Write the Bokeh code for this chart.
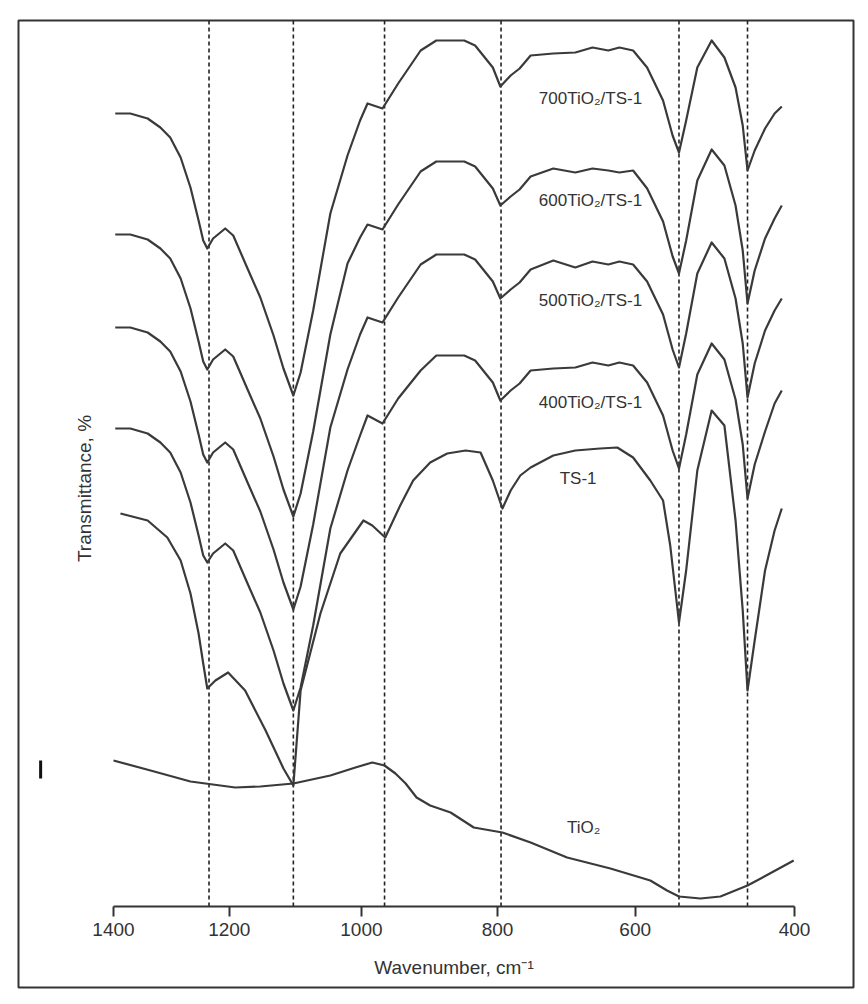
import numpy as np
from bokeh.plotting import figure
from bokeh.models import Range1d, FixedTicker, LinearAxis, ColumnDataSource
from bokeh.embed import file_html
from bokeh.resources import INLINE
from bokeh.core.properties import value

# ---------------- data ----------------
TICK_WN = [1400, 1200, 1000, 800, 600, 400]
TICK_LABELS = ["1400", "1200", "1000", "800", "600", "400"]
# the printed axis of the reference is not evenly spaced: where each tick sits
TICK_POS = [1400, 1230, 1036, 836, 634, 400]

BANDS = [1235, 1103, 966, 795, 545, 459]   # dashed reference lines, cm-1

WN_GROUP = [1397, 1371, 1341, 1319, 1302, 1284, 1267, 1253, 1245, 1238,
            1228, 1207, 1194, 1173, 1153, 1133, 1118, 1103, 1092, 1073,
            1047, 1021, 1002, 991, 969, 946, 913, 890, 849, 833,
            807, 796, 781, 768, 752, 719, 687, 662, 639, 623,
            603, 585, 565, 553, 545, 536, 522, 504, 488, 474,
            465, 459, 450, 437, 425, 416]

T_700 = [79.3, 79.3, 78.8, 77.9, 76.9, 74.9, 71.9, 68.6, 66.6, 65.8,
         66.8, 67.8, 67.1, 63.9, 60.9, 57.1, 53.8, 51.1, 53.4, 59.6,
         69.3, 75.1, 78.6, 80.3, 79.8, 82.3, 85.6, 86.6, 86.6, 86.1,
         83.9, 82.0, 83.1, 83.8, 85.1, 85.3, 85.4, 85.9, 85.6, 85.9,
         85.6, 83.9, 80.6, 77.1, 75.4, 78.6, 83.9, 86.6, 84.9, 81.9,
         78.1, 73.6, 75.6, 77.8, 79.3, 80.0]
T_600 = [67.2, 67.2, 66.7, 65.8, 64.8, 62.8, 59.8, 56.5, 54.5, 53.7,
         54.7, 55.7, 55.0, 51.8, 48.8, 45.0, 41.7, 39.0, 41.3, 47.5,
         57.2, 64.3, 66.9, 68.2, 67.7, 70.2, 73.5, 74.5, 74.5, 74.0,
         71.8, 70.1, 71.0, 71.7, 73.0, 73.8, 73.4, 73.8, 73.6, 73.4,
         73.6, 71.8, 68.5, 65.0, 63.3, 66.6, 72.6, 75.7, 74.1, 70.1,
         65.6, 60.3, 63.6, 66.8, 68.8, 70.1]
T_500 = [57.9, 57.9, 57.4, 56.5, 55.5, 53.5, 50.5, 47.2, 45.2, 44.4,
         45.4, 46.4, 45.7, 42.5, 39.5, 35.7, 32.4, 29.7, 32.0, 38.2,
         47.9, 53.7, 57.2, 58.9, 58.4, 60.9, 64.2, 65.2, 65.2, 64.7,
         62.5, 60.8, 61.7, 62.4, 63.7, 64.6, 63.9, 64.5, 64.2, 64.5,
         64.2, 62.5, 59.2, 55.7, 53.9, 57.3, 63.3, 66.4, 64.8, 60.8,
         56.3, 50.9, 54.3, 57.6, 59.6, 60.8]
T_400 = [47.8, 47.8, 47.3, 46.4, 45.4, 43.4, 40.4, 37.1, 35.1, 34.4,
         35.3, 36.3, 35.6, 32.4, 29.4, 25.6, 22.3, 19.6, 21.9, 28.1,
         37.8, 43.6, 47.1, 49.1, 48.3, 50.8, 53.6, 55.1, 55.1, 54.6,
         52.4, 50.6, 51.6, 52.3, 53.6, 53.8, 53.9, 54.4, 54.1, 54.4,
         54.1, 52.4, 49.1, 45.6, 43.8, 47.2, 53.2, 56.3, 54.7, 50.7,
         46.2, 40.8, 44.2, 47.5, 50.3, 51.6]

WN_TS1 = [1388, 1341, 1307, 1284, 1267, 1253, 1245, 1238, 1224, 1202,
          1176, 1145, 1118, 1103, 1092, 1062, 1032, 997, 984, 965,
          943, 924, 899, 874, 847, 825, 807, 793, 781, 767,
          752, 719, 687, 651, 626, 603, 581, 565, 556, 545,
          536, 522, 504, 488, 474, 465, 459, 450, 437, 425,
          416]
T_TS1 = [39.3, 38.6, 36.9, 34.6, 31.3, 27.3, 24.3, 21.8, 22.6, 23.4,
         21.6, 17.6, 13.8, 12.1, 21.6, 29.3, 35.3, 38.6, 38.1, 36.9,
         40.1, 42.6, 44.4, 45.3, 45.6, 45.4, 42.6, 39.8, 41.6, 43.1,
         43.9, 45.1, 45.6, 45.8, 45.9, 44.9, 42.6, 40.6, 36.1, 28.4,
         33.6, 43.6, 49.6, 48.1, 38.6, 29.6, 21.6, 26.6, 33.6, 37.6,
         39.8]

WN_TIO2 = [1400, 1336, 1267, 1191, 1153, 1103, 1047, 1009, 984, 966,
           950, 935, 919, 899, 869, 835, 793, 752, 699, 636,
           581, 560, 545, 518, 493, 459, 431, 401]
T_TIO2 = [14.6, 13.6, 12.5, 11.9, 12.0, 12.3, 13.1, 13.9, 14.4, 14.1,
          13.3, 12.3, 10.9, 10.1, 9.4, 7.9, 7.4, 6.4, 4.9, 3.8,
          2.6, 1.6, 1.0, 0.8, 1.0, 2.1, 3.3, 4.6]

NAMES = ["700TiO\u2082/TS-1", "600TiO\u2082/TS-1", "500TiO\u2082/TS-1", "400TiO\u2082/TS-1",
         "TS-1", "TiO\u2082"]
LABEL_WN = [665, 665, 665, 665, 683, 675]
LABEL_T = [80.8, 70.6, 60.6, 50.4, 42.8, 7.9]

SCALE_BAR_X = 1507          # axis units, left of the spectra
SCALE_BAR_T = [12.8, 14.6]

# ---------------- helpers ----------------
def warp(wn):
    return np.interp(-np.asarray(wn, float), -np.array(TICK_WN, float),
                     np.array(TICK_POS, float))

FONT = "Liberation Sans"
INK = "#333333"

p = figure(width=868, height=1004, output_backend="svg", toolbar_location=None,
           x_range=Range1d(1539.5, 313.4), y_range=Range1d(-8.1, 88.6),
           x_axis_location=None, y_axis_location=None,
           min_border_left=18, min_border_right=15, min_border_top=20, min_border_bottom=17)
p.xgrid.visible = False
p.ygrid.visible = False
p.outline_line_color = INK
p.outline_line_width = 2
p.background_fill_color = "white"
p.border_fill_color = "white"

# dashed band markers
bx = warp(BANDS)
p.segment(x0=bx, y0=[0] * len(bx), x1=bx, y1=[88.6] * len(bx),
          line_color="#222222", line_width=1.6, line_dash="4 3")

# spectra
for wn, t in [(WN_GROUP, T_700), (WN_GROUP, T_600), (WN_GROUP, T_500), (WN_GROUP, T_400),
              (WN_TS1, T_TS1), (WN_TIO2, T_TIO2)]:
    p.line(x=warp(wn), y=t, line_color="#3a3a3a", line_width=2.2, line_join="round")

# curve names
src = ColumnDataSource(dict(x=warp(LABEL_WN), y=LABEL_T, text=NAMES))
p.text(x="x", y="y", text="text", source=src, text_align="center", text_baseline="middle",
       text_font=value(FONT), text_font_size="17px", text_color=INK)

# scale bar
p.segment(x0=[SCALE_BAR_X], y0=[SCALE_BAR_T[0]], x1=[SCALE_BAR_X], y1=[SCALE_BAR_T[1]],
          line_color="#111111", line_width=3)

# x axis inside the frame
xa = LinearAxis(fixed_location=0, bounds=(400, 1400))
xa.ticker = FixedTicker(ticks=TICK_POS)
xa.major_label_overrides = {pos: lab for pos, lab in zip(TICK_POS, TICK_LABELS)}
xa.minor_tick_line_color = None
xa.major_tick_in = 0
xa.major_tick_out = 10
xa.major_tick_line_width = 2
xa.major_tick_line_color = INK
xa.axis_line_color = INK
xa.axis_line_width = 2
xa.major_label_text_font = FONT
xa.major_label_text_font_size = "19px"
xa.major_label_text_color = INK
xa.major_label_standoff = 6
xa.axis_label = "Wavenumber, cm\u207b\u00b9"
xa.axis_label_text_font = FONT
xa.axis_label_text_font_style = "normal"
xa.axis_label_text_font_size = "19px"
xa.axis_label_text_color = INK
xa.axis_label_standoff = 18
p.add_layout(xa, "below")

# y title only
ya = LinearAxis(fixed_location=1425, bounds=(20.6, 63.0))
ya.ticker = FixedTicker(ticks=[])
ya.axis_line_color = None
ya.major_tick_line_color = None
ya.minor_tick_line_color = None
ya.axis_label = "Transmittance, %"
ya.axis_label_text_font = FONT
ya.axis_label_text_font_style = "normal"
ya.axis_label_text_font_size = "19px"
ya.axis_label_text_color = INK
ya.axis_label_standoff = 2
p.add_layout(ya, "left")

open("out.html", "w").write(file_html(p, INLINE))
